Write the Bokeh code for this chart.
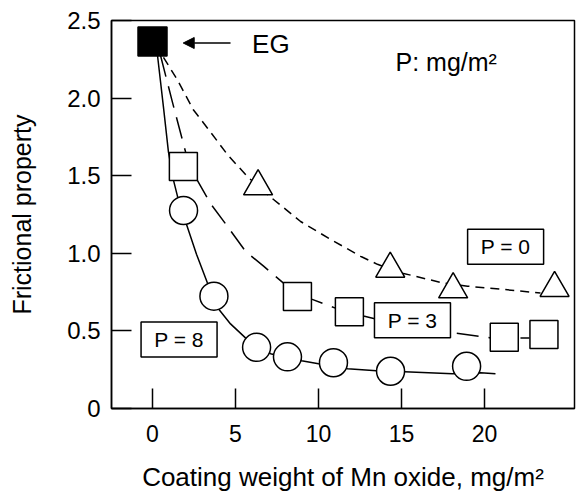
from bokeh.plotting import figure
from bokeh.models import FixedTicker, Label, Arrow, NormalHead
from bokeh.embed import file_html
from bokeh.resources import INLINE

# ---- data ----
eg_x = [0.0]
eg_y = [2.365]

p8_x = [1.87, 3.70, 6.27, 8.13, 10.90, 14.34, 18.92]
p8_y = [1.276, 0.724, 0.394, 0.333, 0.295, 0.240, 0.272]

p3_x = [1.86, 8.73, 11.86, 21.19, 23.58]
p3_y = [1.560, 0.721, 0.623, 0.459, 0.476]

p0_x = [6.36, 14.32, 18.11, 24.22]
p0_y = [1.431, 0.900, 0.767, 0.776]

# fitted curves
p8_curve_x = [0.30, 0.66, 0.96, 1.27, 1.51, 2.05, 2.65, 3.31, 3.98, 4.70, 5.60, 7.11, 8.13,
              8.98, 10.00, 11.75, 13.49, 15.18, 18.07, 19.76, 20.66]
p8_curve_y = [2.276, 1.942, 1.654, 1.468, 1.365, 1.186, 0.994, 0.808, 0.641, 0.545, 0.455, 0.353,
              0.327, 0.308, 0.288, 0.256, 0.244, 0.237, 0.224, 0.231, 0.224]

p3_curve_x = [0.48, 1.20, 1.99, 2.71, 3.49, 4.52, 5.60, 6.69, 7.89, 9.58, 11.02, 12.71, 14.94,
              18.13, 20.36, 22.71]
p3_curve_y = [2.276, 1.974, 1.654, 1.468, 1.321, 1.173, 1.013, 0.917, 0.808, 0.705, 0.647, 0.596,
              0.538, 0.487, 0.455, 0.455]

p0_curve_x = [0.66, 1.51, 2.47, 3.49, 4.52, 5.72, 6.93, 8.92, 10.72, 12.53, 13.55, 15.06, 17.53,
              18.98, 20.96, 23.37]
p0_curve_y = [2.263, 2.115, 1.923, 1.782, 1.635, 1.494, 1.378, 1.205, 1.090, 0.981, 0.929, 0.872,
              0.808, 0.788, 0.769, 0.744]

x_ticks = [0, 5, 10, 15, 20]
y_ticks = [0, 0.5, 1.0, 1.5, 2.0, 2.5]
y_tick_labels = {0: "0", 0.5: "0.5", 1.0: "1.0", 1.5: "1.5", 2.0: "2.0", 2.5: "2.5"}

FONT = "Liberation Sans"

p = figure(width=576, height=494, x_range=(-2.47, 25.42), y_range=(0, 2.5),
           output_backend="svg", toolbar_location=None,
           min_border_left=111, min_border_right=2, min_border_top=20, min_border_bottom=86)
p.grid.visible = False
p.outline_line_color = "black"
p.outline_line_width = 1.5
p.background_fill_color = "white"
p.border_fill_color = "white"

for ax in (p.xaxis[0], p.yaxis[0]):
    ax.major_tick_in = 20
    ax.major_tick_out = 0
    ax.minor_tick_in = 0
    ax.minor_tick_out = 0
    ax.axis_line_color = "black"
    ax.axis_line_width = 1.5
    ax.major_tick_line_width = 1.5
    ax.major_tick_line_color = "black"
    ax.major_label_text_font = FONT
    ax.major_label_text_color = "black"
    ax.axis_label_text_font = FONT
    ax.axis_label_text_font_style = "normal"
    ax.axis_label_text_color = "black"

p.xaxis.ticker = FixedTicker(ticks=x_ticks)
p.xaxis.major_label_text_font_size = "23px"
p.xaxis.major_label_standoff = 16
p.xaxis.axis_label = "Coating weight of Mn oxide, mg/m²"
p.xaxis.axis_label_text_font_size = "26px"
p.xaxis.axis_label_standoff = 17

p.yaxis.ticker = FixedTicker(ticks=y_ticks)
p.yaxis.major_label_overrides = y_tick_labels
p.yaxis.major_label_text_font_size = "24px"
p.yaxis.major_label_standoff = 11
p.yaxis.axis_label = "Frictional property"
p.yaxis.axis_label_text_font_size = "25px"
p.yaxis.axis_label_standoff = 28

# curves
p.line(p0_curve_x, p0_curve_y, line_color="black", line_width=1.5, line_dash="9 6")
p.line(p3_curve_x, p3_curve_y, line_color="black", line_width=1.5, line_dash="22 10")
p.line(p8_curve_x, p8_curve_y, line_color="black", line_width=1.5)

# label boxes
box_x = [21.27, 15.66, 1.60]
box_y = [1.042, 0.568, 0.445]
box_t = ["P = 0", "P = 3", "P = 8"]
p.rect(box_x, box_y, width=76, height=35, width_units="screen", height_units="screen",
       fill_color="white", line_color="black", line_width=1.5)
for bx, by, bt in zip(box_x, box_y, box_t):
    p.add_layout(Label(x=bx, y=by, text=bt, text_font=FONT, text_font_size="21px",
                       text_align="center", text_baseline="middle", text_color="black"))

# markers
p.scatter(p8_x, p8_y, marker="circle", size=28, fill_color="white", line_color="black", line_width=1.5)
p.scatter(p3_x, p3_y, marker="square", size=28, fill_color="white", line_color="black", line_width=1.5)
p.scatter(p0_x, p0_y, marker="triangle", size=29, fill_color="white", line_color="black", line_width=1.5)
p.scatter(eg_x, eg_y, marker="square", size=29, fill_color="black", line_color="black", line_width=1.5)

# annotations
p.add_layout(Arrow(end=NormalHead(size=11, fill_color="black", line_color="black"),
                   x_start=4.7, y_start=2.355, x_end=1.85, y_end=2.355,
                   line_color="black", line_width=1.5))
p.add_layout(Label(x=6.0, y=2.35, text="EG", text_font=FONT, text_font_size="26px",
                   text_align="left", text_baseline="middle", text_color="black"))
p.add_layout(Label(x=14.64, y=2.23, text="P: mg/m²", text_font=FONT, text_font_size="25px",
                   text_align="left", text_baseline="middle", text_color="black"))

open("out.html", "w").write(file_html(p, INLINE))
